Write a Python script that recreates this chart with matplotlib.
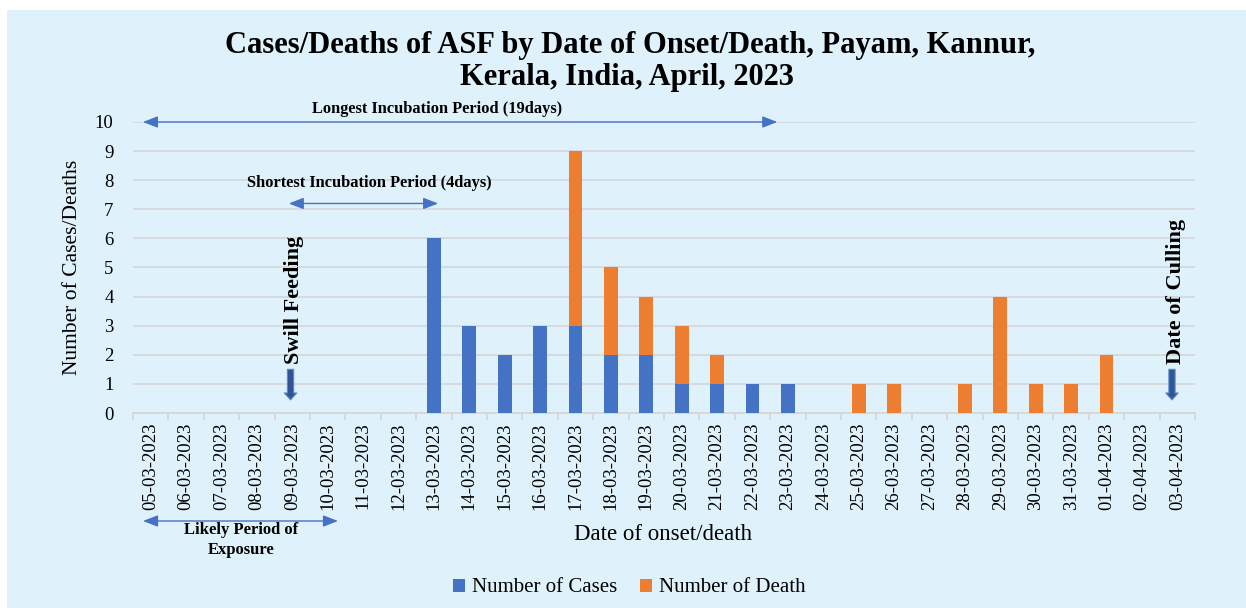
import matplotlib
matplotlib.use("Agg")
import matplotlib.pyplot as plt
from matplotlib.patches import Rectangle
import numpy as np

dates = ["05-03-2023", "06-03-2023", "07-03-2023", "08-03-2023", "09-03-2023",
         "10-03-2023", "11-03-2023", "12-03-2023", "13-03-2023", "14-03-2023",
         "15-03-2023", "16-03-2023", "17-03-2023", "18-03-2023", "19-03-2023",
         "20-03-2023", "21-03-2023", "22-03-2023", "23-03-2023", "24-03-2023",
         "25-03-2023", "26-03-2023", "27-03-2023", "28-03-2023", "29-03-2023",
         "30-03-2023", "31-03-2023", "01-04-2023", "02-04-2023", "03-04-2023"]
cases = [0, 0, 0, 0, 0, 0, 0, 0, 6, 3, 2, 3, 3, 2, 2, 1, 1, 1, 1, 0,
         0, 0, 0, 0, 0, 0, 0, 0, 0, 0]
deaths = [0, 0, 0, 0, 0, 0, 0, 0, 0, 0, 0, 0, 6, 3, 2, 2, 1, 0, 0, 0,
          1, 1, 0, 1, 4, 1, 1, 2, 0, 0]

BLUE = "#4472C4"
ORANGE = "#ED7D31"
BG = "#DFF1FB"
SERIF = "Liberation Serif"

W, H = 1246, 608
fig = plt.figure(figsize=(W / 100, H / 100), dpi=100, facecolor="white")
fig.patches.append(Rectangle((7 / W, 0), 1 - 7 / W, 1 - 10 / H, transform=fig.transFigure,
                             facecolor=BG, edgecolor="none", zorder=-10))

ax_l, ax_r = 133, 1195
ax_t, ax_b = 122, 413
ax = fig.add_axes([ax_l / W, 1 - ax_b / H, (ax_r - ax_l) / W, (ax_b - ax_t) / H])
ax.set_facecolor("none")

x = np.arange(len(dates))
ax.bar(x, cases, width=0.39, color=BLUE, label="Number of Cases", zorder=3)
ax.bar(x, deaths, width=0.39, bottom=cases, color=ORANGE, label="Number of Death", zorder=3)

ax.set_xlim(-0.5, len(dates) - 0.5)
ax.set_ylim(0, 10)
ax.set_yticks(range(0, 11))
ax.yaxis.grid(True, color="#D6D6D6", linewidth=1.2, zorder=0)
ax.set_axisbelow(True)
for s in ["top", "right", "left"]:
    ax.spines[s].set_visible(False)
ax.spines["bottom"].set_color("#D6D6D6")
ax.spines["bottom"].set_linewidth(1.2)
ax.set_xticks(np.arange(-0.5, len(dates) + 0.5, 1), minor=False)
ax.set_xticklabels([])
ax.tick_params(axis="x", which="major", length=5, color="#D6D6D6", width=1.2)
ax.set_xticks(x, minor=True)
ax.set_xticklabels(dates, minor=True, rotation=90, fontsize=13.5, family=SERIF)
ax.tick_params(axis="x", which="minor", length=0, pad=7)
ax.tick_params(axis="y", length=0, labelsize=13.5, pad=14)
for t in ax.get_yticklabels():
    t.set_family(SERIF)

ax.set_ylabel("Number of Cases/Deaths", fontsize=15.5, family=SERIF, labelpad=9)
fig.text(663 / W, 1 - 535 / H, "Date of onset/death", fontsize=16.5, family=SERIF,
         ha="center", va="center")

fig.text(630 / W, 1 - 45 / H, "Cases/Deaths of ASF by Date of Onset/Death, Payam, Kannur,",
         fontsize=22, family=SERIF, weight="bold", ha="center", va="center")
fig.text(627 / W, 1 - 78 / H, "Kerala, India, April, 2023",
         fontsize=22, family=SERIF, weight="bold", ha="center", va="center")

arrow_kw = dict(arrowstyle="<|-|>,head_length=0.9,head_width=0.35", color=BLUE, lw=1.0,
                shrinkA=0, shrinkB=0)
# Longest incubation
ax.annotate("", xy=(-0.22, 10), xytext=(17.7, 10), arrowprops=arrow_kw, annotation_clip=False)
ax.text(8.09, 10.45, "Longest Incubation Period (19days)", fontsize=11.8, family=SERIF,
        weight="bold", ha="center", va="center")
# Shortest incubation
ax.annotate("", xy=(3.9, 7.2), xytext=(8.12, 7.2), arrowprops=arrow_kw)
ax.text(6.17, 7.9, "Shortest Incubation Period (4days)", fontsize=11.8, family=SERIF,
        weight="bold", ha="center", va="center")

# Swill feeding
block_kw = dict(arrowstyle="simple,head_length=0.5,head_width=0.9,tail_width=0.45",
                facecolor="#2F5597", edgecolor="#5B8BD0", lw=0.8, shrinkA=0, shrinkB=0)
ax.annotate("", xy=(3.95, 0.45), xytext=(3.95, 1.5), arrowprops=block_kw)
ax.text(4.05, 1.7, "Swill Feeding", rotation=90, fontsize=16, family=SERIF, weight="bold",
        ha="center", va="bottom")
# Date of culling
ax.annotate("", xy=(28.85, 0.45), xytext=(28.85, 1.5), arrowprops=block_kw)
ax.text(28.95, 1.7, "Date of Culling", rotation=90, fontsize=16, family=SERIF, weight="bold",
        ha="center", va="bottom")

# Likely period of exposure (figure coords)
ax.annotate("", xy=(143 / W, 1 - 521 / H), xytext=(338 / W, 1 - 521 / H),
            xycoords="figure fraction", textcoords="figure fraction", arrowprops=arrow_kw)
fig.text(241 / W, 1 - 540 / H, "Likely Period of\nExposure", fontsize=12, family=SERIF,
         weight="bold", ha="center", va="center", linespacing=1.25)

leg = fig.legend(loc="center", bbox_to_anchor=(629 / W, 1 - 588 / H), ncol=2, frameon=False,
                 prop={"family": SERIF, "size": 15}, handlelength=0.6, handleheight=0.6,
                 columnspacing=1.1, handletextpad=0.3)

fig.savefig("out.png", dpi=100, facecolor="white")
